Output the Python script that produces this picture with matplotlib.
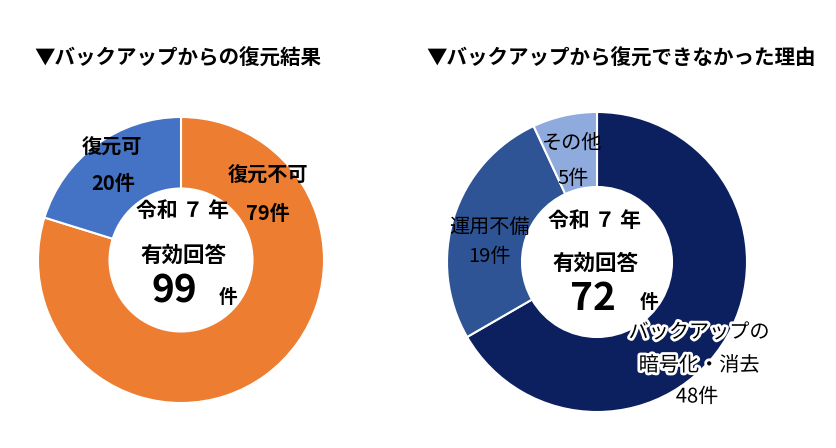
import matplotlib
matplotlib.use('Agg')
import matplotlib.pyplot as plt
import matplotlib.patheffects as pe

plt.rcParams['font.family'] = ['Noto Sans CJK JP', 'DejaVu Sans']

W, H = 836, 448

# left chart data
left_title = '▼バックアップからの復元結果'
left_labels = ['復元不可', '復元可']
left_values = [79, 20]
left_colors = ['#ED7D31', '#4472C4']
left_total = 99

# right chart data
right_title = '▼バックアップから復元できなかった理由'
right_labels = ['バックアップの\n暗号化・消去', '運用不備', 'その他']
right_values = [48, 19, 5]
right_colors = ['#0C1F5E', '#2F5495', '#8FAADC']
right_total = 72

fig = plt.figure(figsize=(W / 100, H / 100), dpi=100)


def px(x, y):
    # pixel coords (top-left origin) -> figure fraction
    return x / W, 1 - y / H


def donut(cx, cy, r, values, colors):
    ax = fig.add_axes([(cx - r) / W, 1 - (cy + r) / H, 2 * r / W, 2 * r / H])
    ax.pie(values, colors=colors, startangle=90, counterclock=False, radius=1,
           wedgeprops=dict(width=0.5, edgecolor='white', linewidth=1.5))
    ax.set_xlim(-1, 1)
    ax.set_ylim(-1, 1)
    ax.set_aspect('equal')
    ax.axis('off')
    return ax


def txt(x, y, s, size, weight='bold', halo=False, **kw):
    t = fig.text(*px(x, y), s, fontsize=size, fontweight=weight,
                 ha='center', va='center', color='black', **kw)
    if halo:
        t.set_path_effects([pe.withStroke(linewidth=4, foreground='white')])
    return t


donut(181, 260, 143, left_values, left_colors)
donut(597, 262, 150, right_values, right_colors)

# titles
txt(178, 58, left_title, 14.8)
txt(621, 58, right_title, 14.8)

# left labels
txt(268, 175, left_labels[0], 14.5)
txt(268, 213, f'{left_values[0]}件', 14.5)
txt(112, 147, left_labels[1], 14.5)
txt(113, 183, f'{left_values[1]}件', 14.5)

# left center
txt(183, 210, '令和 ７ 年', 15)
txt(183, 255, '有効回答', 15.5)
txt(174, 291, str(left_total), 28)
txt(228, 297, '件', 13.5)

# right labels
txt(699, 349, right_labels[0], 14.5, weight='normal', halo=True, linespacing=1.75)
txt(697, 397, f'{right_values[0]}件', 14.5, weight='normal', halo=True)
txt(490, 227, right_labels[1], 14.5, weight='normal')
txt(490, 257, f'{right_values[1]}件', 14.5, weight='normal')
txt(572, 143, right_labels[2], 14.5, weight='normal')
txt(573, 178, f'{right_values[2]}件', 14.5, weight='normal')

# right center
txt(595, 220, '令和 ７ 年', 15)
txt(595, 263, '有効回答', 15.5)
txt(593, 298, str(right_total), 28)
txt(649, 303, '件', 13.5)

fig.savefig('out.png', dpi=100)
